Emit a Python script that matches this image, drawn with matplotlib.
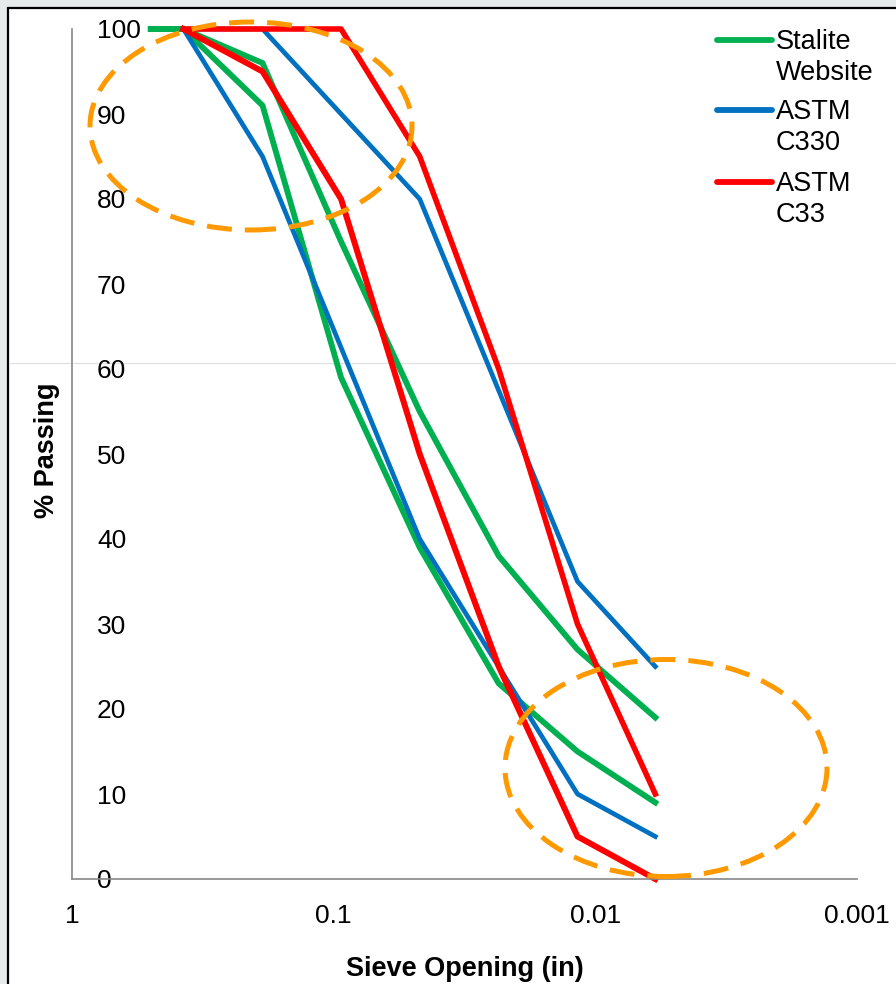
import numpy as np
import matplotlib.pyplot as plt
from matplotlib.patches import Ellipse, Rectangle
from matplotlib.lines import Line2D

plt.rcParams['font.family'] = ['Liberation Sans', 'DejaVu Sans']

# sieve openings (in): 1/2", 3/8", #4, #8, #16, #30, #50, #100
sieves = [0.5, 0.375, 0.187, 0.0937, 0.0469, 0.0234, 0.0117, 0.0059]
stalite_hi = [100, 100, 96, 75, 55, 38, 27, 19]
stalite_lo = [100, 100, 91, 59, 39, 23, 15, 9]

c330_sieves = [0.375, 0.187, 0.0469, 0.0117, 0.0059]
c330_hi = [100, 100, 80, 35, 25]
c330_lo = [100, 85, 40, 10, 5]

c33_sieves = [0.375, 0.187, 0.0937, 0.0469, 0.0234, 0.0117, 0.0059]
c33_hi = [100, 100, 100, 85, 60, 30, 10]
c33_lo = [100, 95, 80, 50, 25, 5, 0]

series_names = ['Stalite\nWebsite', 'ASTM\nC330', 'ASTM\nC33']
colors = ['#00B050', '#0070C0', '#FF0000']

xticks = [1, 0.1, 0.01, 0.001]
xtick_labels = ['1', '0.1', '0.01', '0.001']

W, H = 896, 984


def fx(px):
    return px / W


def fy(py):
    return 1 - py / H


fig = plt.figure(figsize=(W / 100, H / 100), dpi=100, facecolor='#E6EAEA')

# slide background: white panel with black frame
fig.add_artist(Rectangle((fx(8), -0.1), 1.2, fy(8) + 0.1, transform=fig.transFigure,
                         facecolor='white', edgecolor='black', lw=1.6, zorder=-2))
fig.add_artist(Line2D([fx(10), 1], [fy(363), fy(363)], transform=fig.transFigure,
                      color='#E2E4E4', lw=1, zorder=-1))

ax = fig.add_axes([fx(72), fy(879), fx(857) - fx(72), fy(29) - fy(879)])
ax.set_facecolor('none')

ax.plot(sieves, stalite_hi, color=colors[0], lw=4.2)
ax.plot(sieves, stalite_lo, color=colors[0], lw=4.2)
ax.plot(c330_sieves, c330_hi, color=colors[1], lw=3.4)
ax.plot(c330_sieves, c330_lo, color=colors[1], lw=3.4)
ax.plot(c33_sieves, c33_hi, color=colors[2], lw=4.0)
ax.plot(c33_sieves, c33_lo, color=colors[2], lw=4.3)
for l in ax.lines:
    l.set_clip_on(False)

ax.set_xscale('log')
ax.set_xlim(1, 0.001)
ax.set_ylim(0, 100)
ax.set_xticks(xticks, labels=xtick_labels)
ax.minorticks_off()
ax.set_yticks(range(0, 101, 10))
ax.tick_params(axis='x', length=0, pad=18, labelsize=19)
ax.tick_params(axis='y', length=0, pad=-18, labelsize=19)
for lab in ax.get_yticklabels():
    lab.set_horizontalalignment('left')

for s in ['top', 'right']:
    ax.spines[s].set_visible(False)
for s in ['left', 'bottom']:
    ax.spines[s].set_color('#888888')
    ax.spines[s].set_linewidth(1.2)

ax.set_ylabel('% Passing', fontsize=19.5, fontweight='bold')
ax.yaxis.set_label_coords(-0.015, 0.505)
ax.set_xlabel('Sieve Opening (in)', fontsize=19.5, fontweight='bold')
ax.xaxis.set_label_coords(0.5, -0.09)

# legend (two-line labels, handle beside the first line)
for name, c, y0 in zip(series_names, colors, [40, 110, 182]):
    fig.add_artist(Line2D([fx(717), fx(772)], [fy(y0), fy(y0)], transform=fig.transFigure,
                          color=c, lw=4.2, solid_capstyle='round'))
    fig.text(fx(776), fy(y0 + 40), name, fontsize=19.5, va='baseline', ha='left',
             linespacing=1.26)

# highlight circles
for cx, cy, w, h in [(251, 126, 322, 208), (666, 768, 322, 217)]:
    fig.add_artist(Ellipse((fx(cx), fy(cy)), fx(w), h / H, transform=fig.transFigure,
                           fill=False, edgecolor='#FF9900', lw=3.6, ls=(0, (5, 2.6)), zorder=5))

fig.savefig('out.png', dpi=100, facecolor=fig.get_facecolor())
